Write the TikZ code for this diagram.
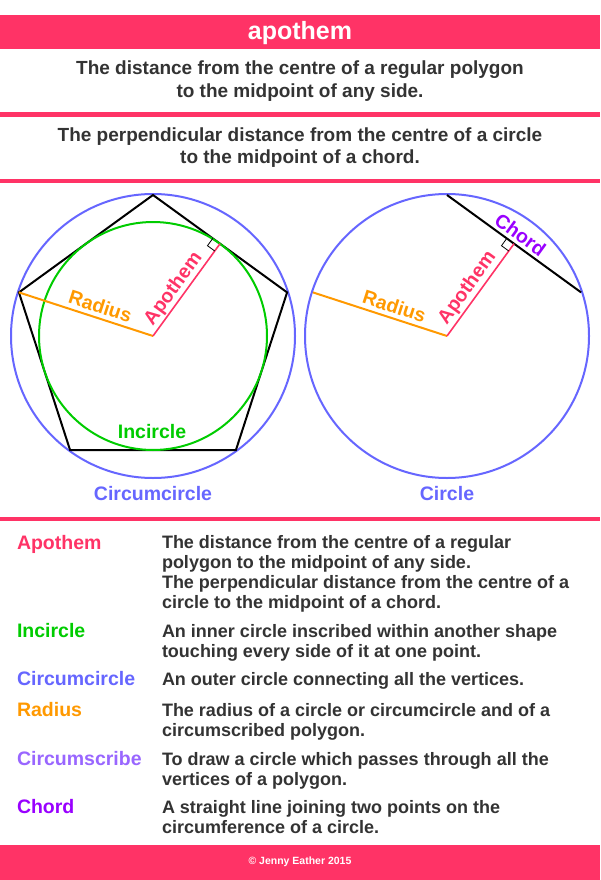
\documentclass[tikz,border=0pt]{standalone}
\usepackage{fontspec}
\setmainfont{Liberation Sans}
\usetikzlibrary{calc}
\definecolor{pinkc}{HTML}{FF3366}
\definecolor{bluec}{HTML}{6666FF}
\definecolor{greenc}{HTML}{00CC00}
\definecolor{orangec}{HTML}{FF9900}
\definecolor{lilacc}{HTML}{9966FF}
\definecolor{purplec}{HTML}{9900FF}
\definecolor{darkc}{HTML}{333333}
\begin{document}
\begin{tikzpicture}[x=1pt,y=-1pt,
  every node/.style={inner sep=0pt, outer sep=0pt},
  hdr/.style={font=\fontsize{19}{22}\selectfont\bfseries, text=darkc, anchor=base},
  deftext/.style={font=\fontsize{18}{20}\selectfont\bfseries, text=darkc, anchor=base west},
  term/.style={font=\fontsize{19.5}{22}\selectfont\bfseries, anchor=base west},
  lbl/.style={font=\fontsize{19.5}{22}\selectfont\bfseries, anchor=base},
  bandfill/.style={fill=pinkc, draw=none},
  circ/.style={draw=bluec, line width=2pt},
  poly/.style={draw=black, line width=2pt, line join=miter},
  incirc/.style={draw=greenc, line width=2pt},
  radline/.style={draw=orangec, line width=2pt},
  apoline/.style={draw=pinkc, line width=1.6pt},
  chordline/.style={draw=black, line width=2pt},
  rtmark/.style={draw=black, line width=0.8pt}
]
\useasboundingbox (0,0) rectangle (600,880);
\fill[white] (0,0) rectangle (600,880);

% header bands
\fill[bandfill] (0,15) rectangle (600,48.8);
\node[font=\fontsize{25}{28}\selectfont\bfseries, text=white, anchor=base] (title) at (300,39.5) {apothem};
\node[hdr] (h1a) at (300,75) {The distance from the centre of a regular polygon};
\node[hdr] (h1b) at (300,97.7) {to the midpoint of any side.};
\fill[bandfill] (0,112.2) rectangle (600,116.6);
\node[hdr] (h2a) at (300,141.7) {The perpendicular distance from the centre of a circle};
\node[hdr] (h2b) at (300,163.3) {to the midpoint of a chord.};
\fill[bandfill] (0,178.6) rectangle (600,183);

% left diagram
\coordinate (O1) at (153,336);
\coordinate (P1) at (153,195);
\coordinate (P2) at (18.9,292.4);
\coordinate (P3) at (70.1,450.1);
\coordinate (P4) at (235.9,450.1);
\coordinate (P5) at (287.1,292.4);
\coordinate (M1) at (220.05,243.71);
\coordinate (A1) at (212.77,238.42);
\coordinate (B1) at (207.48,245.70);
\coordinate (C1) at (214.76,250.99);
\draw[circ] (O1) circle[radius=142];
\draw[poly] (P1) -- (P2) -- (P3) -- (P4) -- (P5) -- cycle;
\draw[incirc] (O1) circle[radius=114];
\draw[radline] (P2) -- (O1);
\draw[apoline] (O1) -- (M1);
\draw[rtmark] (A1) -- (B1) -- (C1);
\node[lbl, text=orangec, rotate=-18] (rad1) at ($(P2)!0.58!(O1)!5pt!90:(O1)$) {Radius};
\node[lbl, text=pinkc, rotate=54] (apo1) at ($(O1)!0.44!(M1)!6pt!90:(M1)$) {Apothem};
\node[lbl, text=greenc] (inc) at (152,438.5) {Incircle};
\node[lbl, text=bluec] (circum) at (153,500) {Circumcircle};

% right diagram
\coordinate (O2) at (447,336);
\coordinate (T2) at (447,195);
\coordinate (R2) at (581.1,292.4);
\coordinate (L2) at (312.9,292.4);
\coordinate (M2) at (514.05,243.71);
\coordinate (A2) at (506.77,238.42);
\coordinate (B2) at (501.48,245.70);
\coordinate (C2) at (508.76,250.99);
\draw[circ] (O2) circle[radius=142];
\draw[chordline] (T2) -- (R2);
\draw[radline] (L2) -- (O2);
\draw[apoline] (O2) -- (M2);
\draw[rtmark] (A2) -- (B2) -- (C2);
\node[lbl, text=orangec, rotate=-18] (rad2) at ($(L2)!0.58!(O2)!5pt!90:(O2)$) {Radius};
\node[lbl, text=pinkc, rotate=54] (apo2) at ($(O2)!0.445!(M2)!6.5pt!90:(M2)$) {Apothem};
\node[lbl, text=purplec, rotate=-36] (chordlbl) at ($(T2)!0.5!(R2)!4pt!90:(R2)$) {Chord};
\node[lbl, text=bluec] (circlelbl) at (447,500) {Circle};

% separator
\fill[bandfill] (0,516.8) rectangle (600,520.6);

% glossary
\node[term, text=pinkc] (t1) at (17,549) {Apothem};
\node[deftext] (d1a) at (162,548) {The distance from the centre of a regular};
\node[deftext] (d1b) at (162,568) {polygon to the midpoint of any side.};
\node[deftext] (d1c) at (162,588) {The perpendicular distance from the centre of a};
\node[deftext] (d1d) at (162,608) {circle to the midpoint of a chord.};

\node[term, text=greenc] (t2) at (17,637.5) {Incircle};
\node[deftext] (d2a) at (162,637) {An inner circle inscribed within another shape};
\node[deftext] (d2b) at (162,657) {touching every side of it at one point.};

\node[term, text=bluec] (t3) at (17,685.7) {Circumcircle};
\node[deftext] (d3a) at (162,685.5) {An outer circle connecting all the vertices.};

\node[term, text=orangec] (t4) at (17,716.7) {Radius};
\node[deftext] (d4a) at (162,716.5) {The radius of a circle or circumcircle and of a};
\node[deftext] (d4b) at (162,736.5) {circumscribed polygon.};

\node[term, text=lilacc] (t5) at (17,765) {Circumscribe};
\node[deftext] (d5a) at (162,765) {To draw a circle which passes through all the};
\node[deftext] (d5b) at (162,785) {vertices of a polygon.};

\node[term, text=purplec] (t6) at (17,813.3) {Chord};
\node[deftext] (d6a) at (162,813.3) {A straight line joining two points on the};
\node[deftext] (d6b) at (162,833.3) {circumference of a circle.};

% footer
\fill[bandfill] (0,845) rectangle (600,880);
\node[font=\fontsize{10.5}{12}\selectfont\bfseries, text=white, anchor=base] (foot) at (300,864.5) {© Jenny Eather 2015};
\end{tikzpicture}
\end{document}
